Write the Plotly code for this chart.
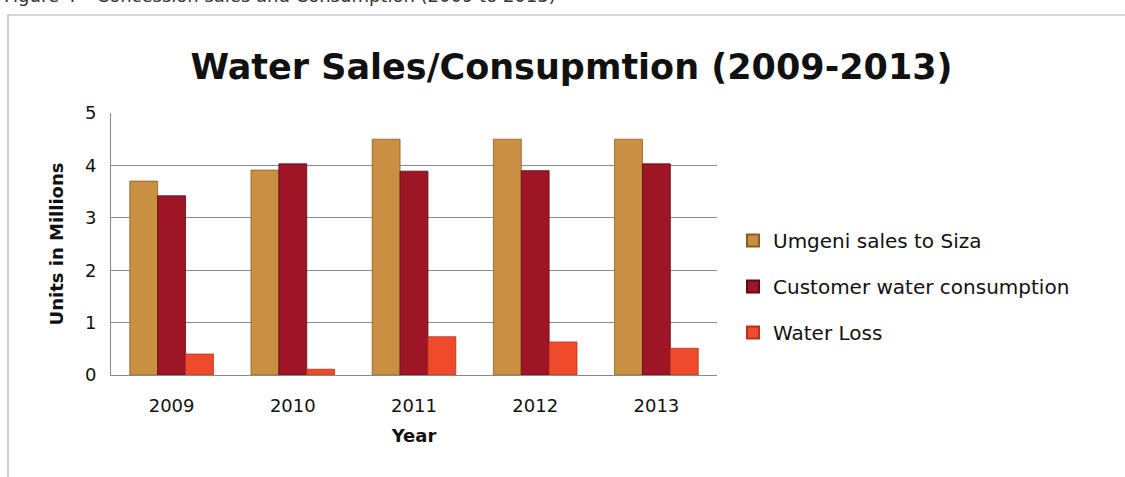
import plotly.graph_objects as go

# Chart data (units in millions)
years = ["2009", "2010", "2011", "2012", "2013"]
umgeni_sales = [3.70, 3.91, 4.50, 4.50, 4.50]
customer_consumption = [3.42, 4.03, 3.89, 3.90, 4.03]
water_loss = [0.40, 0.11, 0.73, 0.63, 0.51]

series_names = ["Umgeni sales to Siza", "Customer water consumption", "Water Loss"]
series_colors = ["#C99044", "#9E1626", "#EE4A2B"]
outline_colors = ["#8A5E22", "#5E0A14", "#B8321A"]

W, H = 1125, 477
L, R, T, B = 111, 408, 113, 102
pw, ph = W - L - R, H - T - B

FONT = "DejaVu Sans"

fig = go.Figure()
for i, (name, vals, col, oc) in enumerate(zip(series_names,
                                              [umgeni_sales, customer_consumption, water_loss],
                                              series_colors, outline_colors)):
    fig.add_trace(go.Bar(
        x=years, y=vals, name=name, legendgroup=f"g{i}",
        marker=dict(color=col, line=dict(color=oc, width=0.8)),
    ))

def px_to_paper_x(px):
    return (px - L) / pw

def px_to_paper_y(py):
    return (H - B - py) / ph

fig.update_layout(
    width=W, height=H,
    margin=dict(l=L, r=R, t=T, b=B),
    paper_bgcolor="white", plot_bgcolor="white",
    barmode="group", bargap=0.31, bargroupgap=0,
    font=dict(family=FONT, color="#111111"),
    title=dict(
        text="<b>Water Sales/Consupmtion (2009-2013)</b>",
        x=0.508, xanchor="center", y=1 - 67 / H, yanchor="middle",
        font=dict(size=35, family=FONT, color="#111111"),
    ),
    xaxis=dict(
        showgrid=False, showline=True, linecolor="#8a8a8a", linewidth=1,
        ticks="", tickfont=dict(size=18), ticklabelstandoff=14,
        title=dict(text="<b>Year</b>", font=dict(size=18), standoff=14),
    ),
    yaxis=dict(
        range=[0, 5], dtick=1, showgrid=True, gridcolor="#8a8a8a", gridwidth=1,
        showline=True, linecolor="#8a8a8a", linewidth=1, ticks="",
        tickfont=dict(size=18), zeroline=False, ticklabelstandoff=10,
        title=dict(text="<b>Units in Millions</b>", font=dict(size=18), standoff=16),
    ),
    legend=dict(
        x=px_to_paper_x(733), xanchor="left", y=px_to_paper_y(221), yanchor="top",
        font=dict(size=20, family=FONT, color="#111111"),
        itemsizing="constant", tracegroupgap=17, bgcolor="rgba(0,0,0,0)",
    ),
    shapes=[
        dict(type="rect", xref="paper", yref="paper",
             x0=px_to_paper_x(8), x1=px_to_paper_x(1130),
             y0=px_to_paper_y(485), y1=px_to_paper_y(15),
             line=dict(color="#b0b0b0", width=1.2), fillcolor="rgba(0,0,0,0)", layer="below"),
    ],
    annotations=[
        dict(text="Figure 4 – Concession sales and Consumption (2009 to 2013)",
             xref="paper", yref="paper", x=px_to_paper_x(2), y=px_to_paper_y(8),
             xanchor="left", yanchor="bottom", showarrow=False,
             font=dict(size=18, family=FONT, color="#333333")),
    ],
)

fig.write_html("out.html")
